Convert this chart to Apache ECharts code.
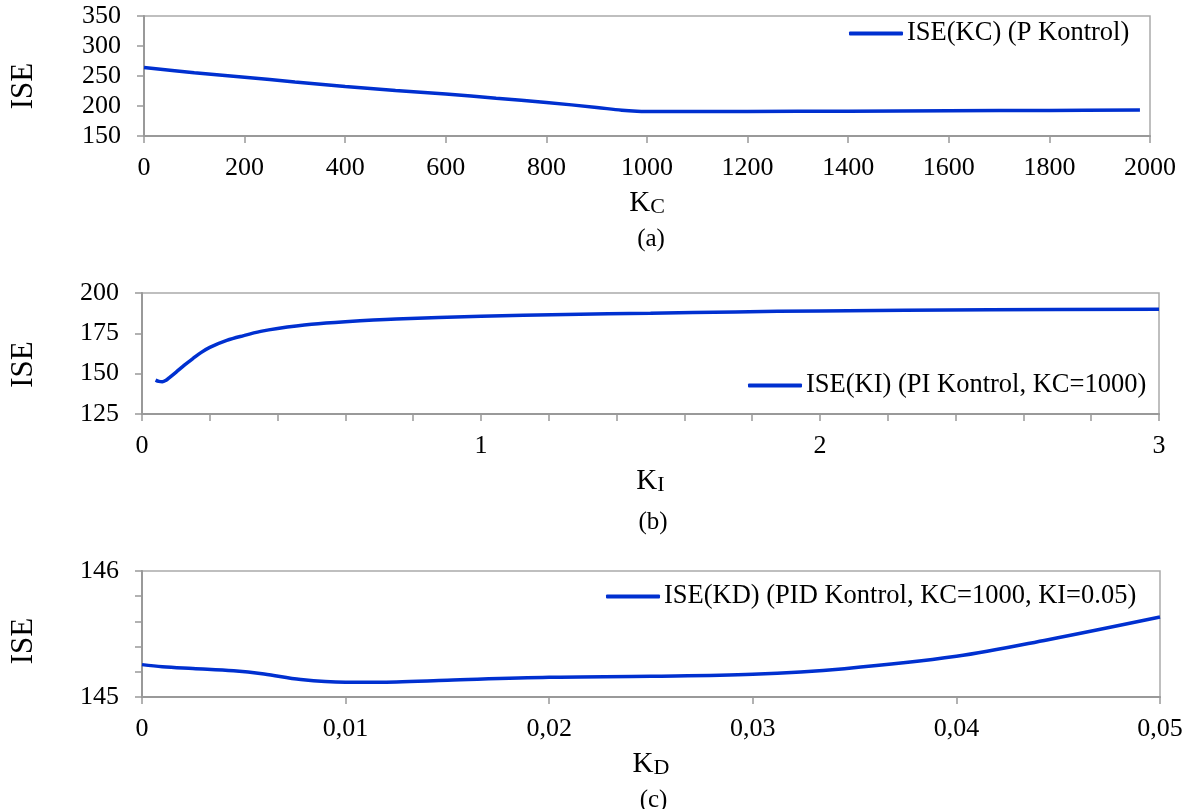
<!DOCTYPE html>
<html>
<head>
<meta charset="utf-8">
<script src="https://cdn.jsdelivr.net/npm/echarts@6/dist/echarts.min.js"></script>
<style>
html,body{margin:0;padding:0;background:#fff;}
#chart{width:1195px;height:809px;}
</style>
</head>
<body>
<div id="chart"></div>
<script>
// ---- Data ----
const kcValues   = [0, 100, 200, 300, 400, 500, 600, 700, 800, 900, 950, 980, 1000, 1200, 1400, 1600, 1800, 1980];
const iseP       = [264, 255.5, 248, 240, 232.5, 226, 220, 213, 206, 197.5, 193, 191.3, 191, 191, 191.3, 192, 192.7, 193.3];

const kiValues   = [0.04, 0.05, 0.06, 0.07, 0.08, 0.1, 0.125, 0.15, 0.175, 0.2, 0.25, 0.3, 0.35, 0.4, 0.5, 0.6, 0.75, 1.0, 1.25, 1.5, 1.75, 2.0, 2.5, 3.0];
const isePI      = [146, 145.2, 145.0, 145.8, 147.4, 150.8, 155.3, 159.3, 163.2, 166.3, 170.6, 173.6, 176.2, 178, 180.6, 182.2, 183.9, 185.6, 186.7, 187.5, 188.3, 188.9, 189.6, 190];

const kdValues   = [0, 0.001, 0.0025, 0.0045, 0.006, 0.0078, 0.01, 0.0125, 0.015, 0.02, 0.025, 0.03, 0.0345, 0.04, 0.0445, 0.05];
const isePID     = [145.257, 145.24, 145.226, 145.208, 145.182, 145.138, 145.117, 145.12, 145.133, 145.156, 145.164, 145.18, 145.225, 145.323, 145.455, 145.635];

const seriesNames = ['ISE(KC) (P Kontrol)', 'ISE(KI) (PI Kontrol, KC=1000)', 'ISE(KD) (PID Kontrol, KC=1000, KI=0.05)'];
const panelLabels = ['(a)', '(b)', '(c)'];
const xNames = ['{k|K}{s|C}', '{k|K}{s|I}', '{k|K}{s|D}'];
const yName = 'ISE';

// axis ranges: [min, max, interval]
const xRangeA = [0, 2000, 200];
const yRangeA = [150, 350, 50];
const xRangeB = [0, 3, 1];
const yRangeB = [125, 200, 25];
const xRangeC = [0, 0.05, 0.01];
const yRangeC = [145, 146, 1];

// ---- Chart ----
const FONT = '"Liberation Serif", "Times New Roman", serif';
const BLUE = '#0030D0';
const AXIS = '#999999';

const chart = echarts.init(document.getElementById('chart'), null, {renderer: 'canvas'});

function pair(a, b) { return a.map((v, i) => [v, b[i]]); }

const grids = [
  {left: 142, right: 45, top: 16, height: 120},
  {left: 137, right: 36, top: 293, height: 121},
  {left: 137, right: 35, top: 571, height: 126}
].map(g => Object.assign(g, {show: true, borderColor: '#aaaaaa', borderWidth: 1.5, containLabel: false}));

const xRanges = [xRangeA, xRangeB, xRangeC];
const yRanges = [yRangeA, yRangeB, yRangeC];
const xLabelMargins = [19, 19, 19];
const xNameGaps = [45, 49, 43];
const yNamePads = [[0, 20, 0, 0], [0, 22, 0, 0], [0, 14, 0, 0]];

const richName = {
  k: {fontSize: 29, fontFamily: FONT, color: '#000', lineHeight: 29, verticalAlign: 'top'},
  s: {fontSize: 22, fontFamily: FONT, color: '#000', lineHeight: 22, verticalAlign: 'bottom', padding: [14, 0, 0, 0]}
};

function xFormatter(idx) {
  if (idx === 2) return v => (v === 0 ? '0' : v.toFixed(2).replace('.', ','));
  return v => String(v);
}

const xAxes = xRanges.map((r, i) => ({
  type: 'value', gridIndex: i, min: r[0], max: r[1], interval: r[2],
  name: xNames[i], nameLocation: 'middle', nameGap: xNameGaps[i],
  nameTextStyle: {rich: richName},
  axisLine: {show: true, onZero: false, lineStyle: {color: AXIS, width: 2}},
  axisTick: {show: true, length: 7, lineStyle: {color: AXIS, width: 1.5}},
  minorTick: {show: i === 1, splitNumber: 5, length: 7, lineStyle: {color: AXIS, width: 1.5}},
  splitLine: {show: false},
  axisLabel: {fontFamily: FONT, fontSize: 26, color: '#000', margin: xLabelMargins[i], formatter: xFormatter(i)}
}));

const yAxes = yRanges.map((r, i) => ({
  type: 'value', gridIndex: i, min: r[0], max: r[1], interval: r[2],
  name: yName, nameLocation: 'middle', nameGap: i === 0 ? 105 : 103, nameRotate: 90,
  nameTextStyle: {fontFamily: FONT, fontSize: 31, color: '#000', padding: yNamePads[i]},
  axisLine: {show: true, onZero: false, lineStyle: {color: AXIS, width: 2}},
  axisTick: {show: true, length: 7, lineStyle: {color: AXIS, width: 1.5}},
  minorTick: {show: i === 2, splitNumber: 5, length: 7, lineStyle: {color: AXIS, width: 1.5}},
  splitLine: {show: false},
  axisLabel: {fontFamily: FONT, fontSize: 26, color: '#000', margin: 23}
}));

const dataSets = [pair(kcValues, iseP), pair(kiValues, isePI), pair(kdValues, isePID)];

const series = dataSets.map((d, i) => ({
  name: seriesNames[i], type: 'line', xAxisIndex: i, yAxisIndex: i,
  data: d, symbol: 'none', smooth: 0.35,
  lineStyle: {color: BLUE, width: 3.5}, itemStyle: {color: BLUE},
  animation: false
}));

const legendPos = [
  {left: 849, top: 20},
  {left: 748, top: 372},
  {left: 606, top: 583}
];
const legends = legendPos.map((p, i) => ({
  data: [seriesNames[i]], left: p.left, top: p.top,
  itemWidth: 54, itemHeight: 4, itemGap: 0,
  icon: 'roundRect',
  textStyle: {fontFamily: FONT, fontSize: 26.5, color: '#000', padding: [0, 0, 0, -1]},
  padding: 0
}));

const titleTops = [222, 505, 783];
const titles = panelLabels.map((t, i) => ({
  text: t, left: (grids[i].left + (1195 - grids[i].right)) / 2, top: titleTops[i],
  textAlign: 'center',
  textStyle: {fontFamily: FONT, fontSize: 25, fontWeight: 'normal', color: '#000'}
}));

chart.setOption({
  backgroundColor: '#fff',
  animation: false,
  title: titles,
  legend: legends,
  grid: grids,
  xAxis: xAxes,
  yAxis: yAxes,
  series: series
});
</script>
</body>
</html>
